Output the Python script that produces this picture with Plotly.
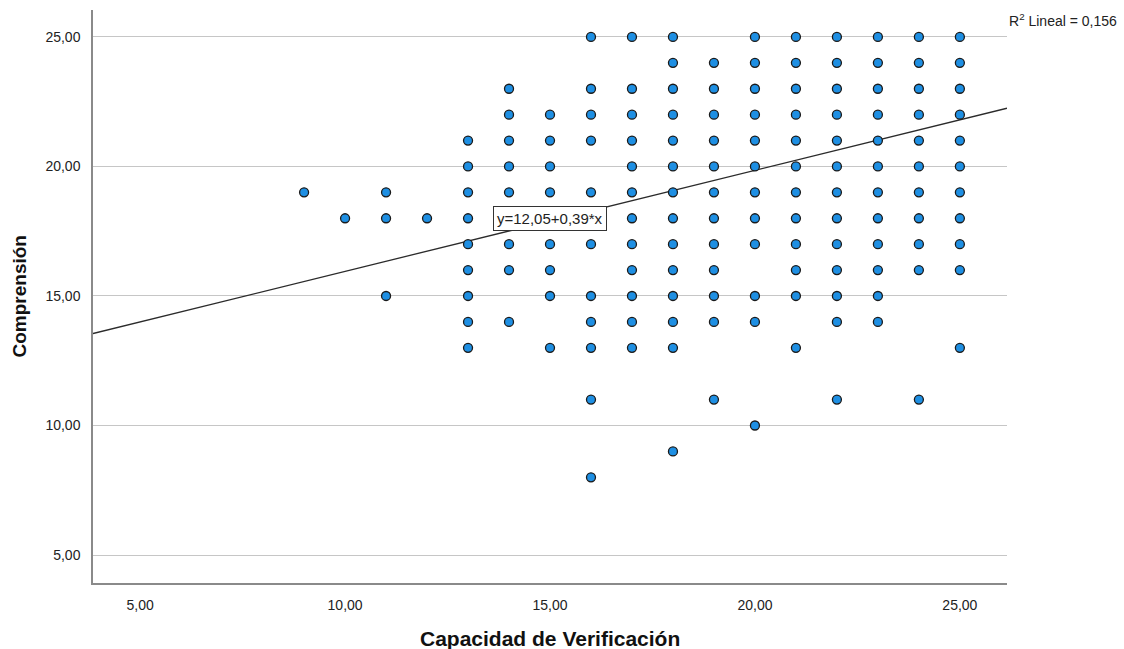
import plotly.graph_objects as go

# ---- data ----
verificacion = (
    [9] + [10] + [11] * 3 + [12]
    + [13] * 9 + [14] * 9 + [15] * 9 + [16] * 12 + [17] * 12
    + [18] * 14 + [19] * 12 + [20] * 12 + [21] * 12 + [22] * 13
    + [23] * 12 + [24] * 11 + [25] * 11
)
comprension = (
    [19]
    + [18]
    + [19, 18, 15]
    + [18]
    + [21, 20, 19, 18, 17, 16, 15, 14, 13]
    + [23, 22, 21, 20, 19, 18, 17, 16, 14]
    + [22, 21, 20, 19, 18, 17, 16, 15, 13]
    + [25, 23, 22, 21, 19, 18, 17, 15, 14, 13, 11, 8]
    + [25, 23, 22, 21, 20, 19, 18, 17, 16, 15, 14, 13]
    + [25, 24, 23, 22, 21, 20, 19, 18, 17, 16, 15, 14, 13, 9]
    + [24, 23, 22, 21, 20, 19, 18, 17, 16, 15, 14, 11]
    + [25, 24, 23, 22, 21, 20, 19, 18, 17, 15, 14, 10]
    + [25, 24, 23, 22, 21, 20, 19, 18, 17, 16, 15, 13]
    + [25, 24, 23, 22, 21, 20, 19, 18, 17, 16, 15, 14, 11]
    + [25, 24, 23, 22, 21, 20, 19, 18, 17, 16, 15, 14]
    + [25, 24, 23, 22, 21, 20, 19, 18, 17, 16, 11]
    + [25, 24, 23, 22, 21, 20, 19, 18, 17, 16, 13]
)
intercept = 12.05
slope = 0.39
r2 = "0,156"
tick_vals = [5, 10, 15, 20, 25]
tick_text = ["5,00", "10,00", "15,00", "20,00", "25,00"]

x_range = [3.85, 26.15]
y_range = [3.92, 26.04]

FONT = "Liberation Sans, Arial, sans-serif"

fig = go.Figure()

# regression line
fig.add_trace(go.Scatter(
    x=x_range,
    y=[intercept + slope * v for v in x_range],
    mode="lines",
    line=dict(color="#2b2b2b", width=1.3),
    hoverinfo="skip",
    showlegend=False,
))

# points
fig.add_trace(go.Scatter(
    x=verificacion,
    y=comprension,
    mode="markers",
    marker=dict(size=9, color="#1e8fe3", line=dict(color="#1a1a1a", width=1.3)),
    showlegend=False,
))

fig.update_layout(
    width=1124,
    height=649,
    margin=dict(l=93, r=117, t=10, b=66),
    paper_bgcolor="white",
    plot_bgcolor="white",
    font=dict(family=FONT, color="#222222", size=14),
    xaxis=dict(
        range=x_range,
        tickvals=tick_vals,
        ticktext=tick_text,
        showgrid=False,
        zeroline=False,
        showline=True,
        linecolor="#8a8a8a",
        linewidth=1.5,
        ticks="",
        ticklabelstandoff=8,
        tickfont=dict(size=14, color="#222222"),
    ),
    yaxis=dict(
        range=y_range,
        tickvals=tick_vals,
        ticktext=tick_text,
        showgrid=True,
        gridcolor="#c6c6c6",
        gridwidth=1.3,
        zeroline=False,
        showline=True,
        linecolor="#8a8a8a",
        linewidth=1.5,
        ticks="",
        ticklabelstandoff=8,
        tickfont=dict(size=14, color="#222222"),
    ),
    annotations=[
        dict(
            text="Capacidad de Verificación",
            xref="paper", yref="paper",
            x=0.5, y=-0.096,
            xanchor="center", yanchor="middle",
            showarrow=False,
            font=dict(size=21, family=FONT, color="#111111", weight="bold"),
        ),
        dict(
            text="Comprensión",
            xref="paper", yref="paper",
            x=-0.0799, y=0.5,
            xanchor="center", yanchor="middle",
            textangle=-90,
            showarrow=False,
            font=dict(size=19, family=FONT, color="#111111", weight="bold"),
        ),
        dict(
            text="R<sup>2</sup> Lineal = " + r2,
            xref="paper", yref="paper",
            x=1.0, y=0.9825,
            xanchor="left", yanchor="middle",
            showarrow=False,
            font=dict(size=14, family=FONT, color="#222222"),
        ),
        dict(
            text="y=12,05+0,39*x",
            xref="x", yref="y",
            x=15, y=18,
            xanchor="center", yanchor="middle",
            showarrow=False,
            bgcolor="white",
            bordercolor="#333333",
            borderwidth=1,
            borderpad=3,
            font=dict(size=15, family=FONT, color="#222222"),
        ),
    ],
)

fig.write_html("out.html")
